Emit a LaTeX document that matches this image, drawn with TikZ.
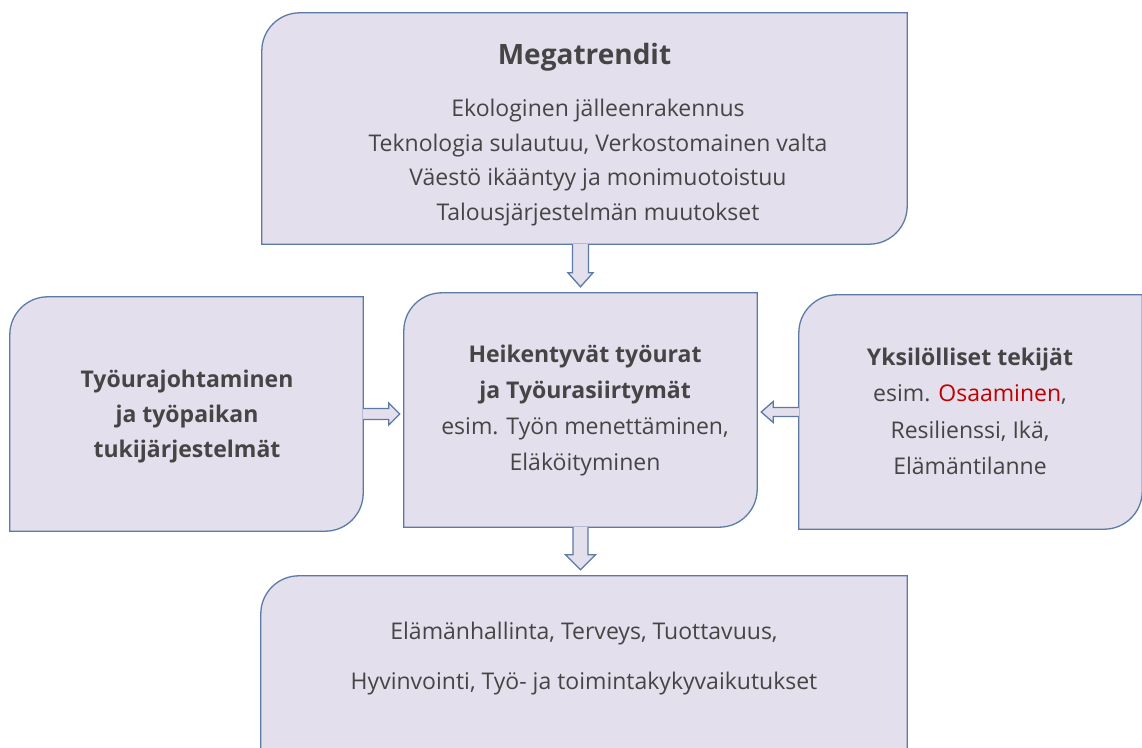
\documentclass[tikz,border=0pt]{standalone}
\usepackage{fontspec}
\setmainfont{Open Sans}
\usetikzlibrary{calc}
\definecolor{boxfill}{HTML}{E4DFEC}
\definecolor{boxline}{HTML}{5B7AA6}
\definecolor{txt}{HTML}{454545}
\definecolor{redtxt}{HTML}{C00000}
\tikzset{
  shapebox/.style={rectangle, draw=none, inner sep=0pt},
  boxdraw/.style={draw=boxline, fill=boxfill, line width=1.3pt},
  arr/.style={draw=boxline, fill=boxfill, line width=1.3pt, line join=miter},
  bodytxt/.style={text=txt, align=center, inner sep=0pt, font=\fontsize{23}{35}\selectfont},
}
\newcommand\diagbox[1]{%
  \draw[boxdraw] ([xshift=38pt]#1.north west) -- (#1.north east)
    -- ([yshift=38pt]#1.south east) arc[start angle=0,end angle=-90,radius=38pt]
    -- (#1.south west) -- ([yshift=-38pt]#1.north west)
    arc[start angle=180,end angle=90,radius=38pt] -- cycle;}
% vertical arrow down: #1 start, #2 tip, #3 half shaft, #4 half head, #5 head length
\newcommand\myvarrow[5]{%
  \draw[arr] let \p1=(#1), \p2=(#2) in
    (\x1-#3,\y1) -- (\x1-#3,\y2+#5) -- (\x1-#4,\y2+#5) -- (\x1,\y2)
    -- (\x1+#4,\y2+#5) -- (\x1+#3,\y2+#5) -- (\x1+#3,\y1);}
% horizontal arrow: #1 start, #2 tip, #3 half shaft, #4 half head, #5 signed head length
\newcommand\myharrow[5]{%
  \draw[arr] let \p1=(#1), \p2=(#2) in
    (\x1,\y1+#3) -- (\x2-#5,\y1+#3) -- (\x2-#5,\y1+#4) -- (\x2,\y1)
    -- (\x2-#5,\y1-#4) -- (\x2-#5,\y1-#3) -- (\x1,\y1-#3);}
\begin{document}
\begin{tikzpicture}[x=1pt,y=1pt]
\useasboundingbox (0,0) rectangle (1142,747);
\begin{scope}
\clip (0,0) rectangle (1142,747);
% box shapes
\node[shapebox, minimum width=645pt, minimum height=231pt] (top) at (584.5,618.5) {};
\node[shapebox, minimum width=353pt, minimum height=234pt] (left) at (186.5,333) {};
\node[shapebox, minimum width=353pt, minimum height=234pt] (mid) at (580.5,337) {};
\node[shapebox, minimum width=343pt, minimum height=234pt] (right) at (970.5,335) {};
\node[shapebox, minimum width=646pt, minimum height=220pt] (bot) at (584,61) {};
\diagbox{top}
\diagbox{left}
\diagbox{mid}
\diagbox{right}
\diagbox{bot}
% connectors
\coordinate (t1) at ($(top.south -| mid.north)$);
\coordinate (t2) at ($(mid.north)+(0,6)$);
\myvarrow{t1}{t2}{8pt}{12.5pt}{14pt}
\coordinate (b2) at ($(bot.north -| mid.south)+(0,6)$);
\myvarrow{mid.south}{b2}{7.5pt}{15pt}{15pt}
\coordinate (l2) at ($(left.east -| mid.west)+(-4,0)$);
\myharrow{left.east}{l2}{5.5pt}{11pt}{11pt}
\coordinate (r2) at ($(right.west -| mid.east)+(4,0)$);
\myharrow{right.west}{r2}{4.5pt}{10.5pt}{-12pt}
\end{scope}
% texts
\node[text=txt, inner sep=0pt, font=\fontsize{28}{30}\selectfont\bfseries] (toptitle) at (584.5,690) {Megatrendit};
\node[bodytxt, font=\fontsize{23}{34.7}\selectfont] (toptxt) at (598,584.5) {Ekologinen jälleenrakennus\\Teknologia sulautuu, Verkostomainen valta\\Väestö ikääntyy ja monimuotoistuu\\Talousjärjestelmän muutokset};
\node[bodytxt, font=\fontsize{23}{35}\selectfont] (lefttxt) at (187,330) {\textbf{Työurajohtaminen}\\\textbf{ja työpaikan}\\\textbf{tukijärjestelmät}};
\node[bodytxt, font=\fontsize{23}{36}\selectfont] (midtxt) at (585,336) {\textbf{Heikentyvät työurat}\\\textbf{ja Työurasiirtymät}\\esim. Työn menettäminen,\\Eläköityminen};
\node[bodytxt, font=\fontsize{23}{36.3}\selectfont] (righttxt) at (970,335.5) {\textbf{Yksilölliset tekijät}\\esim. \textcolor{redtxt}{Osaaminen},\\Resilienssi, Ikä,\\Elämäntilanne};
\node[bodytxt, font=\fontsize{23}{50}\selectfont] (bottxt) at (584,88) {Elämänhallinta, Terveys, Tuottavuus,\\Hyvinvointi, Työ- ja toimintakykyvaikutukset};
\end{tikzpicture}
\end{document}
